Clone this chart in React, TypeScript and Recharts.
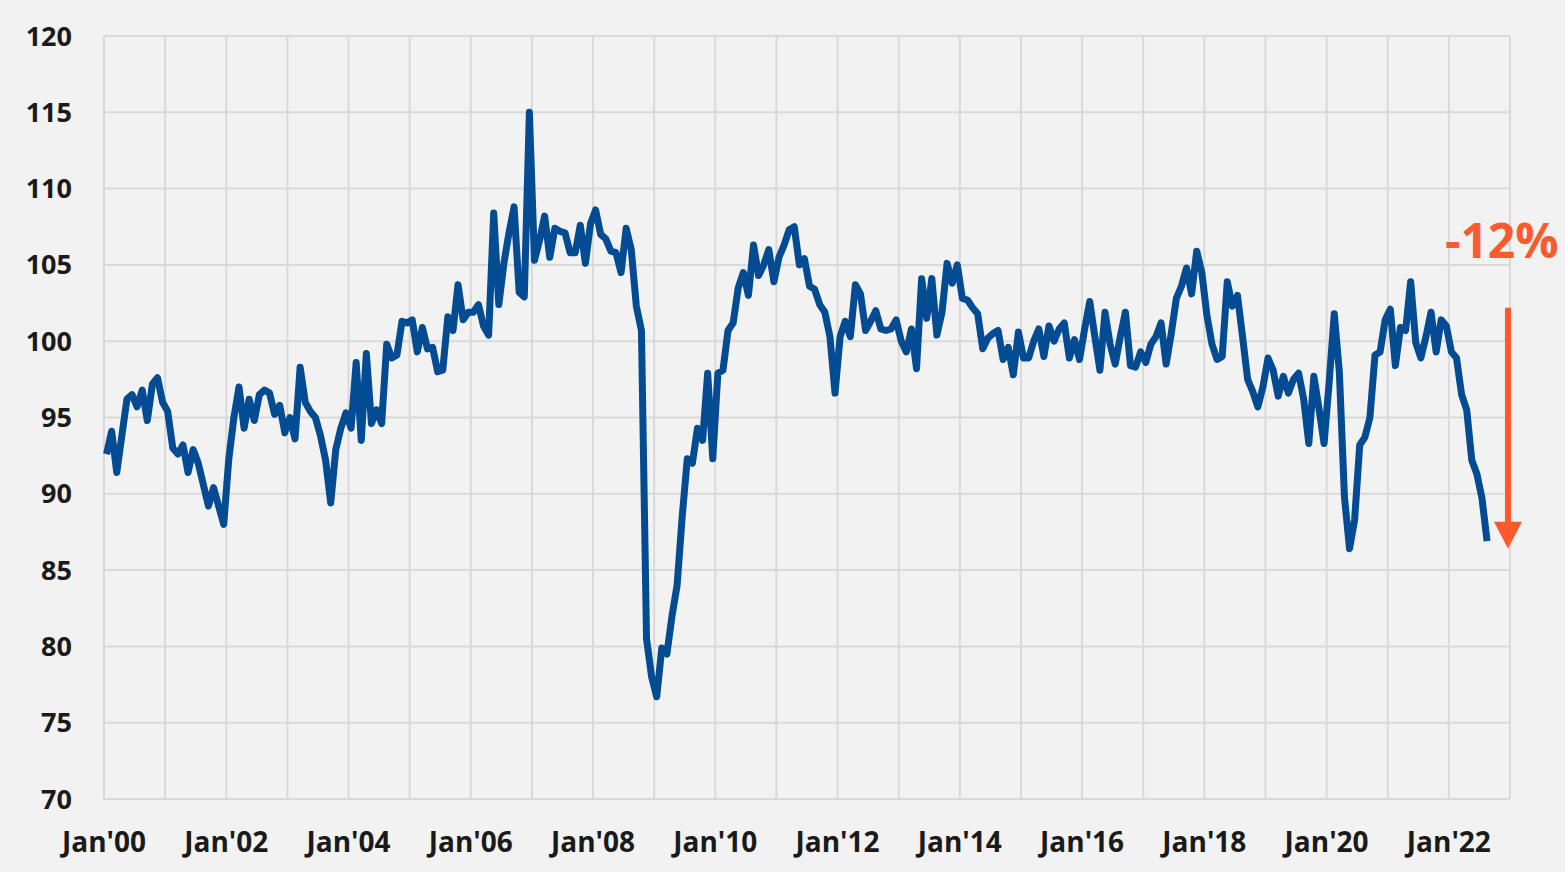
import { CartesianGrid, Line, LineChart, ReferenceLine, XAxis, YAxis } from "recharts";

// monthly readings, Jan 2000 onwards
const values2000s = [
  92.6, 94.1, 91.4, 93.8, 96.2, 96.5, 95.7, 96.8, 94.8, 97.2, 97.6, 96.0,
  95.4, 93.0, 92.6, 93.2, 91.4, 92.9, 92.0, 90.6, 89.2, 90.4, 89.2, 88.0,
  92.3, 95.0, 97.0, 94.3, 96.2, 94.8, 96.5, 96.8, 96.6, 95.2, 95.8, 94.0,
  95.0, 93.6, 98.3, 96.0, 95.4, 95.0, 93.8, 92.2, 89.4, 92.9, 94.3, 95.3,
  94.3, 98.6, 93.5, 99.2, 94.6, 95.5, 94.6, 99.8, 98.9, 99.1, 101.3, 101.2,
  101.4, 99.3, 100.9, 99.5, 99.6, 98.0, 98.1, 101.6, 100.7, 103.7, 101.4, 101.9,
  101.9, 102.4, 101.0, 100.4, 108.4, 102.4, 105.1, 107.1, 108.8, 103.2, 102.9, 115.0,
  105.3, 106.6, 108.2, 105.5, 107.4, 107.2, 107.1, 105.8, 105.8, 107.6, 105.1, 107.7,
  108.6, 107.0, 106.7, 105.9, 105.8, 104.5, 107.4, 106.0, 102.3, 100.7, 80.5, 78.0,
  76.7, 79.9, 79.5, 82.0, 84.0, 88.5, 92.3, 92.0, 94.3, 93.5, 97.9, 92.3,
];
const values2010s = [
  97.9, 98.1, 100.7, 101.2, 103.5, 104.5, 103.0, 106.3, 104.3, 105.0, 106.0, 103.9,
  105.5, 106.3, 107.3, 107.5, 105.0, 105.4, 103.6, 103.4, 102.4, 101.9, 100.3, 96.6,
  100.3, 101.3, 100.3, 103.7, 103.1, 100.7, 101.3, 102.0, 100.8, 100.7, 100.8, 101.4,
  100.0, 99.3, 100.8, 98.2, 104.1, 101.5, 104.1, 100.4, 101.9, 105.1, 103.8, 105.0,
  102.8, 102.7, 102.2, 101.8, 99.5, 100.2, 100.5, 100.7, 98.8, 99.6, 97.8, 100.6,
  98.9, 98.9, 100.0, 100.8, 99.0, 101.0, 100.0, 100.8, 101.2, 98.9, 100.1, 98.8,
  100.8, 102.6, 100.3, 98.1, 101.9, 99.8, 98.5, 100.3, 101.9, 98.4, 98.3, 99.3,
  98.6, 99.8, 100.3, 101.2, 98.5, 100.5, 102.8, 103.6, 104.8, 103.1, 105.9, 104.5,
  101.7, 99.8, 98.8, 99.0, 103.9, 102.3, 103.0, 100.3, 97.5, 96.7, 95.7, 97.0,
  98.9, 98.1, 96.4, 97.7, 96.6, 97.5, 97.9, 96.2, 93.3, 97.7, 95.6, 93.3,
];
const values2020s = [
  97.3, 101.8, 98.0, 89.8, 86.4, 88.3, 93.2, 93.7, 95.0, 99.1, 99.3, 101.4,
  102.1, 98.4, 100.9, 100.7, 103.9, 99.9, 98.9, 100.3, 101.9, 99.3, 101.4, 101.0,
  99.3, 98.9, 96.5, 95.5, 92.2, 91.3, 89.7, 86.9,
];

const yTicks = [70, 75, 80, 85, 90, 95, 100, 105, 110, 115, 120];
const xTickLabels = [
  "Jan'00", "", "Jan'02", "", "Jan'04", "", "Jan'06", "", "Jan'08", "", "Jan'10", "",
  "Jan'12", "", "Jan'14", "", "Jan'16", "", "Jan'18", "", "Jan'20", "", "Jan'22", "",
];
const dropLabel = "-12%";
const dropFrom = 102.2;
const dropTo = 86.4;

const BLUE = "#034b93";
const ORANGE = "#ff5a2e";
const FONT = "'Open Sans', 'Noto Sans', sans-serif";

const values = [...values2000s, ...values2010s, ...values2020s];
const data = values.map((v, i) => ({ x: i + 0.5, value: v }));
const xTicks = xTickLabels.map((_, i) => i * 12);

function DropArrow(props: any) {
  const { x1, y1, y2 } = props;
  const head = 27;
  return (
    <g>
      <text x={x1 - 63} y={y1 - 50} fill={ORANGE} fontFamily={FONT} fontWeight={700} fontSize={48}>
        {dropLabel}
      </text>
      <line x1={x1} y1={y1} x2={x1} y2={y2 - head + 1} stroke={ORANGE} strokeWidth={6} />
      <polygon points={`${x1 - 14},${y2 - head} ${x1 + 14},${y2 - head} ${x1},${y2}`} fill={ORANGE} />
    </g>
  );
}

export default function App() {
  const yTick = { fontFamily: FONT, fontWeight: 700, fontSize: 27, fill: "#1a1a1a" };
  const xTick = { fontFamily: FONT, fontWeight: 700, fontSize: 28, fill: "#1a1a1a" };
  return (
    <div
      style={{
        position: "absolute",
        left: 0,
        top: 0,
        width: 1565,
        height: 872,
        background: "#f2f2f2",
        overflow: "hidden",
      }}
    >
      <LineChart width={1565} height={872} data={data} margin={{ top: 36, right: 55, bottom: 0, left: 0 }}>
        <CartesianGrid stroke="#d9d9d9" strokeWidth={2} />
        <XAxis
          type="number"
          dataKey="x"
          domain={[0, 276]}
          ticks={xTicks}
          interval={0}
          tickFormatter={(v: number) => xTickLabels[Math.round(v / 12)] ?? ""}
          axisLine={false}
          tickLine={false}
          tickSize={0}
          tickMargin={33}
          height={73}
          tick={xTick}
        />
        <YAxis
          type="number"
          domain={[70, 120]}
          ticks={yTicks}
          interval={0}
          axisLine={false}
          tickLine={false}
          tickSize={0}
          tickMargin={32}
          width={104}
          tick={yTick}
        />
        <Line
          type="linear"
          dataKey="value"
          stroke={BLUE}
          strokeWidth={7}
          strokeLinejoin="round"
          dot={false}
          activeDot={false}
          isAnimationActive={false}
        />
        <ReferenceLine
          segment={[
            { x: 275.6, y: dropFrom },
            { x: 275.6, y: dropTo },
          ]}
          ifOverflow="visible"
          shape={DropArrow}
        />
      </LineChart>
    </div>
  );
}
